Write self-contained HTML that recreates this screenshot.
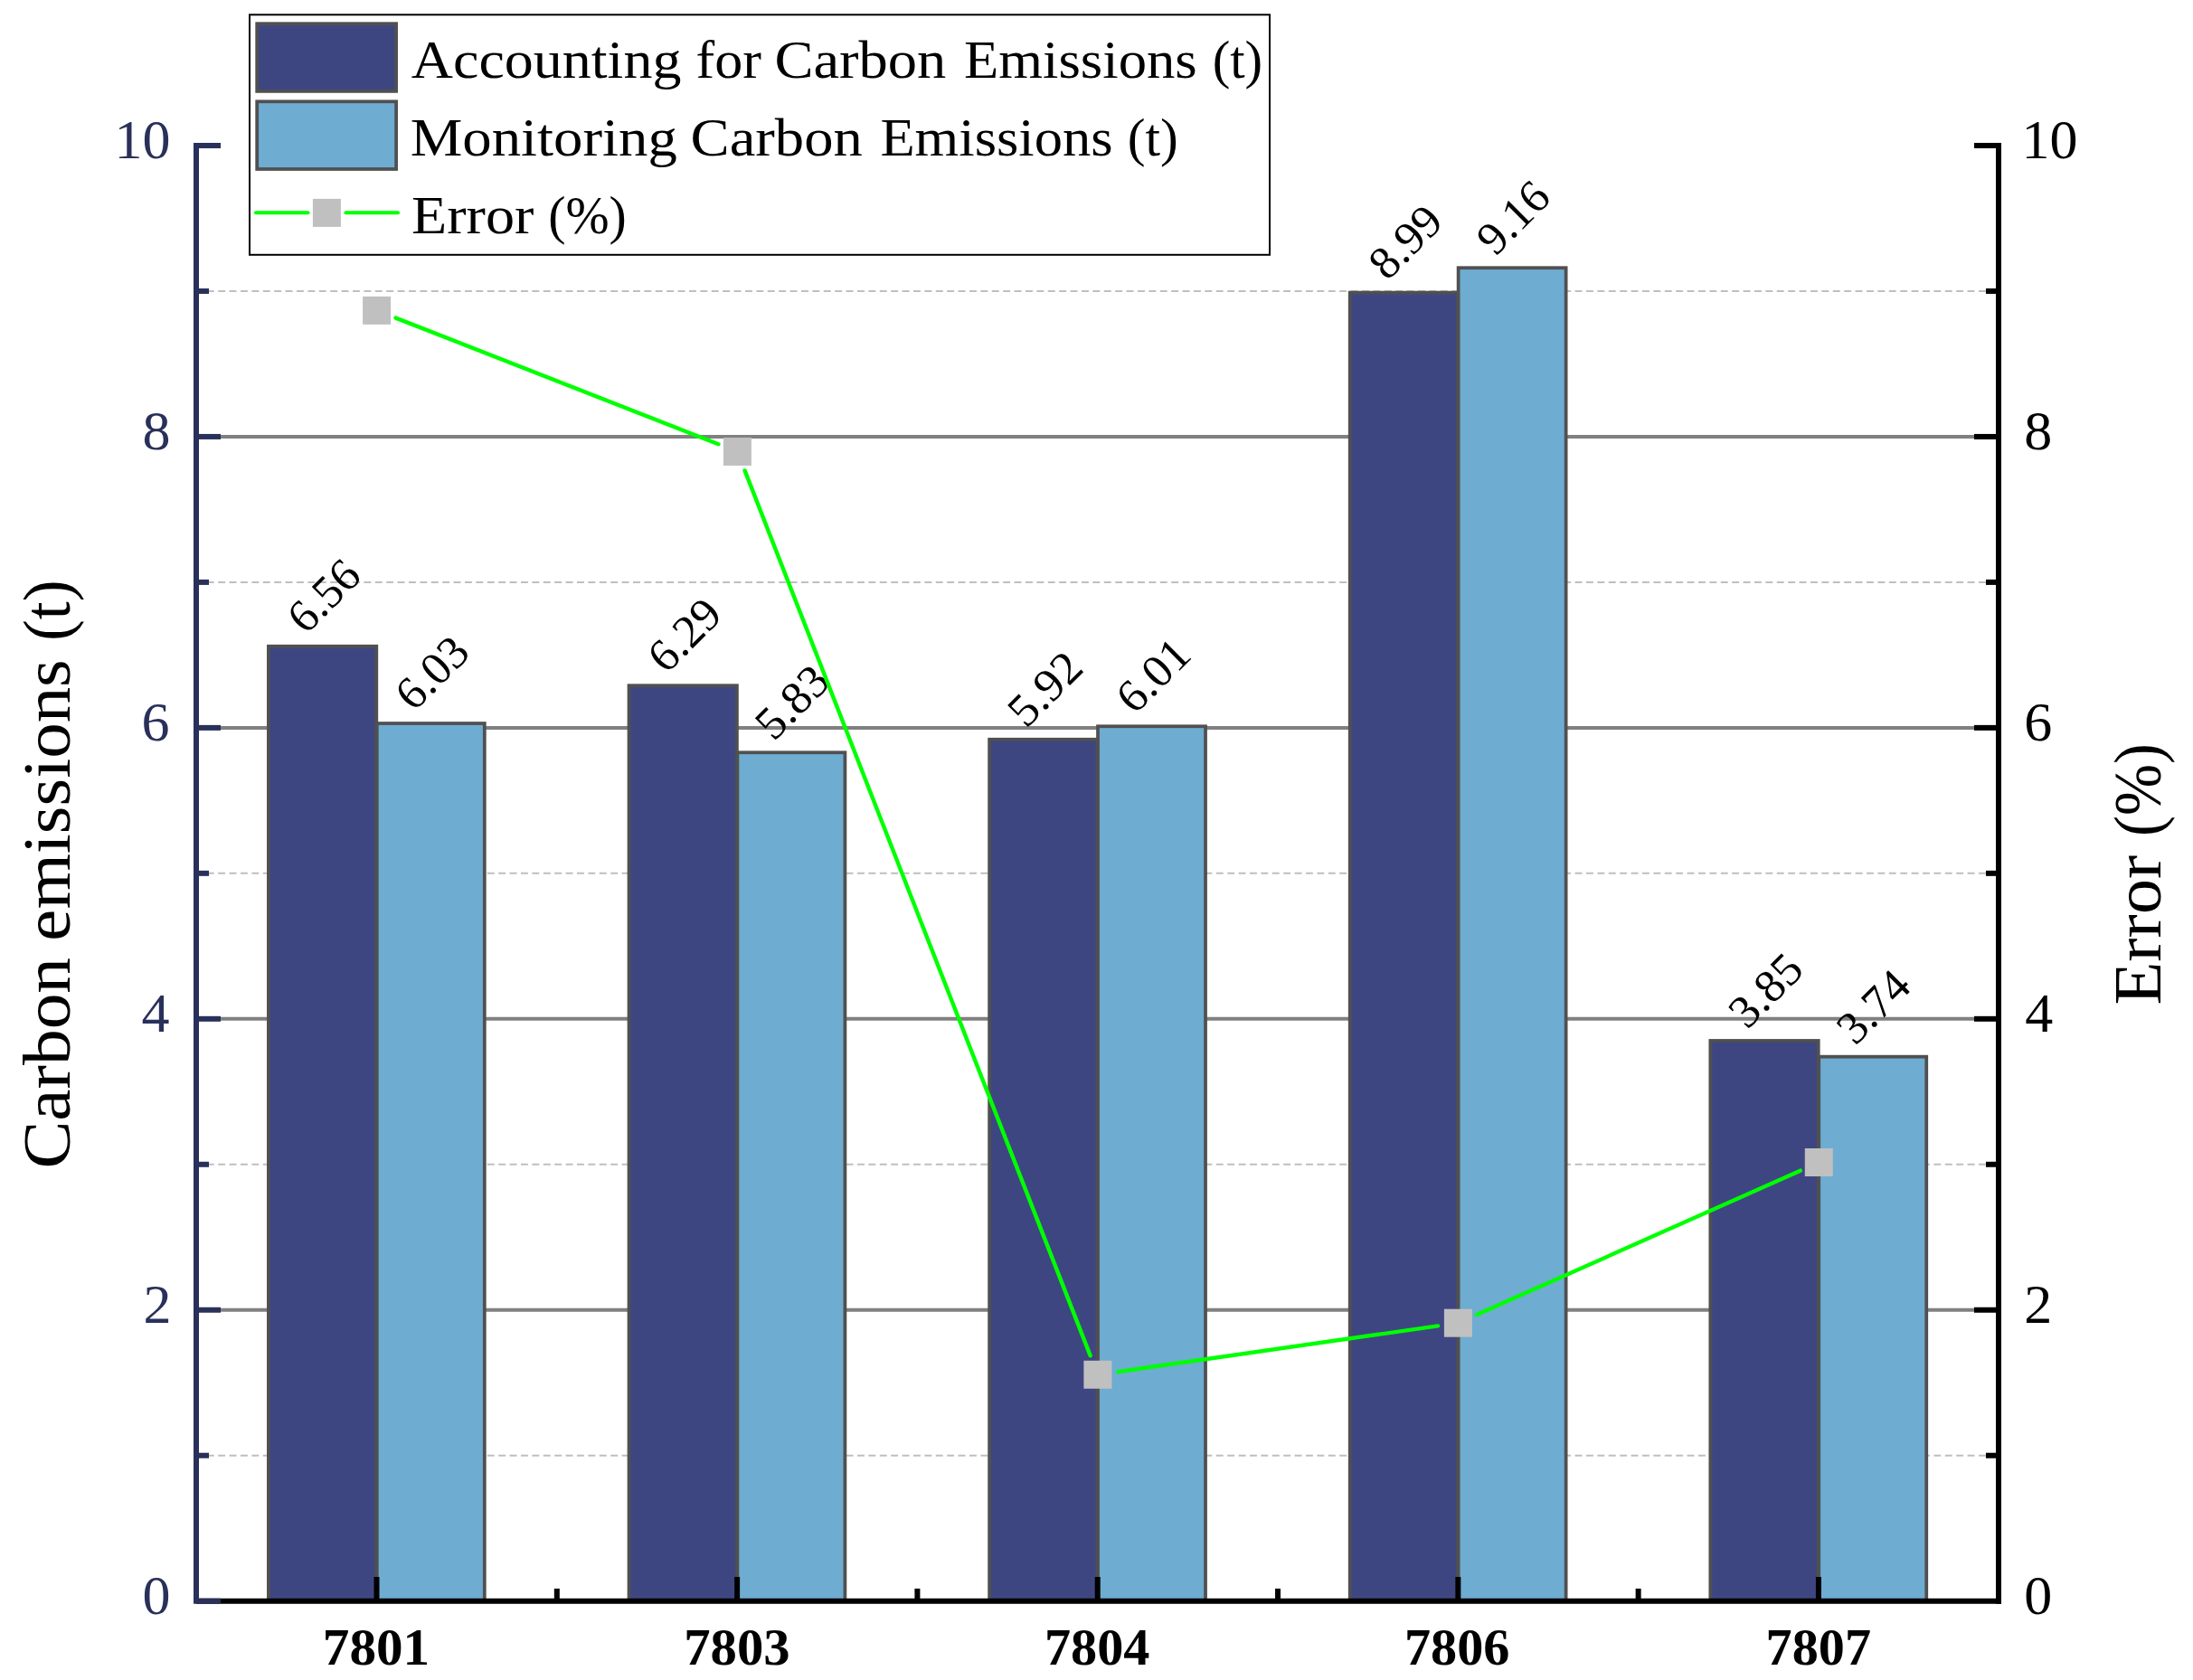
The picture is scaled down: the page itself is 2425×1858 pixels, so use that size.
<!DOCTYPE html>
<html lang="en"><head><meta charset="utf-8"><title>Carbon emissions chart</title>
<style>
html,body{margin:0;padding:0;background:#fff;}
svg{display:block;}
text{font-family:"Liberation Serif", serif;}
</style></head><body>
<svg width="2425" height="1858" viewBox="0 0 2425 1858">
<rect x="0" y="0" width="2425" height="1858" fill="#ffffff"/>
<g id="grid">
<line x1="216.4" y1="1609.73" x2="2197" y2="1609.73" stroke="#bfbfbf" stroke-width="2" stroke-dasharray="7.9 4.5"/>
<line x1="244" y1="1448.76" x2="2183" y2="1448.76" stroke="#808080" stroke-width="4"/>
<line x1="216.4" y1="1287.79" x2="2197" y2="1287.79" stroke="#bfbfbf" stroke-width="2" stroke-dasharray="7.9 4.5"/>
<line x1="244" y1="1126.82" x2="2183" y2="1126.82" stroke="#808080" stroke-width="4"/>
<line x1="216.4" y1="965.85" x2="2197" y2="965.85" stroke="#bfbfbf" stroke-width="2" stroke-dasharray="7.9 4.5"/>
<line x1="244" y1="804.88" x2="2183" y2="804.88" stroke="#808080" stroke-width="4"/>
<line x1="216.4" y1="643.91" x2="2197" y2="643.91" stroke="#bfbfbf" stroke-width="2" stroke-dasharray="7.9 4.5"/>
<line x1="244" y1="482.94" x2="2183" y2="482.94" stroke="#808080" stroke-width="4"/>
<line x1="216.4" y1="321.97" x2="2197" y2="321.97" stroke="#bfbfbf" stroke-width="2" stroke-dasharray="7.9 4.5"/>
</g>
<g id="bars" stroke-width="3.75" stroke="#505050" stroke-linejoin="miter">
<rect x="296.90" y="714.74" width="119.4" height="1055.96" fill="#3e4682"/>
<rect x="416.80" y="800.05" width="119.0" height="970.65" fill="#6eacd2"/>
<rect x="695.51" y="758.20" width="119.4" height="1012.50" fill="#3e4682"/>
<rect x="815.41" y="832.24" width="119.0" height="938.46" fill="#6eacd2"/>
<rect x="1094.12" y="817.76" width="119.4" height="952.94" fill="#3e4682"/>
<rect x="1214.02" y="803.27" width="119.0" height="967.43" fill="#6eacd2"/>
<rect x="1492.73" y="323.58" width="119.4" height="1447.12" fill="#3e4682"/>
<rect x="1612.63" y="296.21" width="119.0" height="1474.49" fill="#6eacd2"/>
<rect x="1891.34" y="1150.97" width="119.4" height="619.73" fill="#3e4682"/>
<rect x="2011.24" y="1168.67" width="119.0" height="602.03" fill="#6eacd2"/>
</g>
<g id="barlabels" font-size="51" fill="#000">
<text transform="translate(358.30,658.74) rotate(-45)" x="-45.36" y="16.9" textLength="89.91" lengthAdjust="spacingAndGlyphs">6.56</text>
<text transform="translate(477.70,744.05) rotate(-45)" x="-45.37" y="16.9" textLength="90.74" lengthAdjust="spacingAndGlyphs">6.03</text>
<text transform="translate(756.91,702.20) rotate(-45)" x="-45.37" y="16.9" textLength="90.74" lengthAdjust="spacingAndGlyphs">6.29</text>
<text transform="translate(876.31,776.24) rotate(-45)" x="-46.20" y="16.9" textLength="91.59" lengthAdjust="spacingAndGlyphs">5.83</text>
<text transform="translate(1155.52,761.76) rotate(-45)" x="-46.23" y="16.9" textLength="92.45" lengthAdjust="spacingAndGlyphs">5.92</text>
<text transform="translate(1274.92,747.27) rotate(-45)" x="-45.39" y="16.9" textLength="91.59" lengthAdjust="spacingAndGlyphs">6.01</text>
<text transform="translate(1554.13,267.58) rotate(-45)" x="-45.37" y="16.9" textLength="90.74" lengthAdjust="spacingAndGlyphs">8.99</text>
<text transform="translate(1673.53,240.21) rotate(-45)" x="-45.36" y="16.9" textLength="89.91" lengthAdjust="spacingAndGlyphs">9.16</text>
<text transform="translate(1952.74,1094.97) rotate(-45)" x="-46.20" y="16.9" textLength="91.59" lengthAdjust="spacingAndGlyphs">3.85</text>
<text transform="translate(2072.14,1112.67) rotate(-45)" x="-46.18" y="16.9" textLength="90.74" lengthAdjust="spacingAndGlyphs">3.74</text>
</g>
<g id="errline" stroke="#00ff00" stroke-width="4.4" stroke-linecap="round">
<line x1="437.55" y1="351.60" x2="794.45" y2="491.25"/>
<line x1="823.58" y1="520.41" x2="1205.72" y2="1499.34"/>
<line x1="1236.17" y1="1517.11" x2="1590.13" y2="1466.39"/>
<line x1="1632.95" y1="1454.04" x2="1990.75" y2="1294.66"/>
</g>
<g id="markers" fill="#c0c0c0">
<rect x="401.10" y="327.90" width="31" height="31"/>
<rect x="799.90" y="483.95" width="31" height="31"/>
<rect x="1198.40" y="1504.80" width="31" height="31"/>
<rect x="1596.90" y="1447.70" width="31" height="31"/>
<rect x="1995.80" y="1270.00" width="31" height="31"/>
</g>
<g id="xaxis" stroke="#000" stroke-width="6">
<line x1="217" y1="1770.7" x2="2213" y2="1770.7"/>
<line x1="416.50" y1="1770.7" x2="416.50" y2="1744.0"/>
<line x1="615.81" y1="1770.7" x2="615.81" y2="1756.9"/>
<line x1="815.11" y1="1770.7" x2="815.11" y2="1744.0"/>
<line x1="1014.41" y1="1770.7" x2="1014.41" y2="1756.9"/>
<line x1="1213.72" y1="1770.7" x2="1213.72" y2="1744.0"/>
<line x1="1413.03" y1="1770.7" x2="1413.03" y2="1756.9"/>
<line x1="1612.33" y1="1770.7" x2="1612.33" y2="1744.0"/>
<line x1="1811.63" y1="1770.7" x2="1811.63" y2="1756.9"/>
<line x1="2010.94" y1="1770.7" x2="2010.94" y2="1744.0"/>
</g>
<g id="laxis" stroke="#29305a" stroke-width="6">
<line x1="217" y1="158.00" x2="217" y2="1773.7"/>
<line x1="217" y1="1770.70" x2="244" y2="1770.70"/>
<line x1="217" y1="1609.73" x2="231" y2="1609.73"/>
<line x1="217" y1="1448.76" x2="244" y2="1448.76"/>
<line x1="217" y1="1287.79" x2="231" y2="1287.79"/>
<line x1="217" y1="1126.82" x2="244" y2="1126.82"/>
<line x1="217" y1="965.85" x2="231" y2="965.85"/>
<line x1="217" y1="804.88" x2="244" y2="804.88"/>
<line x1="217" y1="643.91" x2="231" y2="643.91"/>
<line x1="217" y1="482.94" x2="244" y2="482.94"/>
<line x1="217" y1="321.97" x2="231" y2="321.97"/>
<line x1="217" y1="161.00" x2="244" y2="161.00"/>
</g>
<g id="raxis" stroke="#000" stroke-width="6">
<line x1="2210" y1="158.00" x2="2210" y2="1773.7"/>
<line x1="2210" y1="1609.73" x2="2196" y2="1609.73"/>
<line x1="2210" y1="1448.76" x2="2183" y2="1448.76"/>
<line x1="2210" y1="1287.79" x2="2196" y2="1287.79"/>
<line x1="2210" y1="1126.82" x2="2183" y2="1126.82"/>
<line x1="2210" y1="965.85" x2="2196" y2="965.85"/>
<line x1="2210" y1="804.88" x2="2183" y2="804.88"/>
<line x1="2210" y1="643.91" x2="2196" y2="643.91"/>
<line x1="2210" y1="482.94" x2="2183" y2="482.94"/>
<line x1="2210" y1="321.97" x2="2196" y2="321.97"/>
<line x1="2210" y1="161.00" x2="2183" y2="161.00"/>
</g>
<g id="llabels" font-size="62" fill="#29305a">
<text x="157.54" y="1784.70">0</text>
<text x="158.51" y="1462.76">2</text>
<text x="156.57" y="1140.82">4</text>
<text x="156.57" y="818.88">6</text>
<text x="157.54" y="496.94">8</text>
<text x="126.54" y="175.00">10</text>
</g>
<g id="rlabels" font-size="62" fill="#000">
<text x="2238.36" y="1784.70">0</text>
<text x="2238.36" y="1462.76">2</text>
<text x="2239.33" y="1140.82">4</text>
<text x="2238.36" y="818.88">6</text>
<text x="2238.36" y="496.94">8</text>
<text x="2235.46" y="175.00">10</text>
</g>
<g id="xlabels" font-size="57" font-weight="bold" fill="#000">
<text x="356.83" y="1841.2" textLength="118.35" lengthAdjust="spacingAndGlyphs">7801</text>
<text x="756.25" y="1841.2" textLength="117.39" lengthAdjust="spacingAndGlyphs">7803</text>
<text x="1154.97" y="1841.2" textLength="116.44" lengthAdjust="spacingAndGlyphs">7804</text>
<text x="1552.97" y="1841.2" textLength="116.44" lengthAdjust="spacingAndGlyphs">7806</text>
<text x="1952.57" y="1841.2" textLength="116.44" lengthAdjust="spacingAndGlyphs">7807</text>
</g>
<g id="ytitle" transform="rotate(-90)" font-size="73.3" fill="#000">
<text x="-1292.58" y="76.6" textLength="233.58" lengthAdjust="spacingAndGlyphs">Carbon</text>
<text x="-1040.67" y="76.6" textLength="311.52" lengthAdjust="spacingAndGlyphs">emissions</text>
<text x="-709.04" y="76.6" textLength="67.63" lengthAdjust="spacingAndGlyphs">(t)</text>
</g>
<g id="rtitle" transform="rotate(-90)" font-size="73.3" fill="#000">
<text x="-1111.63" y="2388.5" textLength="165.71" lengthAdjust="spacingAndGlyphs">Error</text>
<text x="-924.94" y="2388.5" textLength="102.82" lengthAdjust="spacingAndGlyphs">(%)</text>
</g>
<g id="legend">
<rect x="276" y="16.3" width="1128" height="265.5" fill="#fff" stroke="#000" stroke-width="2"/>
<rect x="284.2" y="26.2" width="153.9" height="74.7" fill="#3e4682" stroke="#505050" stroke-width="3.75"/>
<rect x="284.2" y="112.3" width="153.9" height="74.7" fill="#6eacd2" stroke="#505050" stroke-width="3.75"/>
<line x1="283" y1="235.2" x2="340.5" y2="235.2" stroke="#00ff00" stroke-width="4" stroke-linecap="round"/>
<line x1="382.5" y1="235.2" x2="440" y2="235.2" stroke="#00ff00" stroke-width="4" stroke-linecap="round"/>
<rect x="345.9" y="219.9" width="31" height="31" fill="#c0c0c0"/>
<g font-size="59.5" fill="#000">
<text x="454.80" y="86.1" textLength="298.60" lengthAdjust="spacingAndGlyphs">Accounting</text>
<text x="769.63" y="86.1" textLength="72.37" lengthAdjust="spacingAndGlyphs">for</text>
<text x="856.49" y="86.1" textLength="189.81" lengthAdjust="spacingAndGlyphs">Carbon</text>
<text x="1065.92" y="86.1" textLength="257.85" lengthAdjust="spacingAndGlyphs">Emissions</text>
<text x="1340.66" y="86.1" textLength="55.57" lengthAdjust="spacingAndGlyphs">(t)</text>
<text x="453.79" y="171.6" textLength="295.02" lengthAdjust="spacingAndGlyphs">Monitoring</text>
<text x="763.58" y="171.6" textLength="190.22" lengthAdjust="spacingAndGlyphs">Carbon</text>
<text x="973.42" y="171.6" textLength="257.24" lengthAdjust="spacingAndGlyphs">Emissions</text>
<text x="1246.74" y="171.6" textLength="56.11" lengthAdjust="spacingAndGlyphs">(t)</text>
<text x="455.00" y="258.2" textLength="135.32" lengthAdjust="spacingAndGlyphs">Error</text>
<text x="606.19" y="258.2" textLength="86.70" lengthAdjust="spacingAndGlyphs">(%)</text>
</g></g>
</svg></body></html>
